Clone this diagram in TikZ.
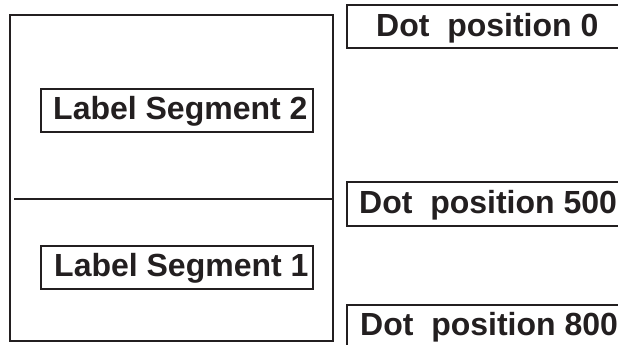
\documentclass[tikz,border=0pt]{standalone}
\usepackage{fontspec}
\setmainfont{Liberation Sans}
\definecolor{ink}{RGB}{35,31,32}
\begin{document}
\begin{tikzpicture}[x=1pt,y=-1pt,
  frame/.style={draw=ink,line width=2.2pt},
  boxline/.style={draw=ink,line width=2pt},
  lbl/.style={inner sep=0pt,anchor=base west,text=ink,font=\fontsize{32}{38}\selectfont\bfseries}]
\useasboundingbox (0,0) rectangle (618,345);
\clip (0,0) rectangle (618,345);
% outer frame with divider
\draw[frame] (10,15) rectangle (333,341);
\coordinate (divL) at (14,199);
\coordinate (divR) at (333,199);
\draw[frame] (divL) -- (divR);
% label segment boxes
\draw[boxline] (41,89) rectangle (313,132);
\node[lbl] (ls2) at (53,119) {Label Segment 2};
\draw[boxline] (41,246) rectangle (313,289);
\node[lbl] (ls1) at (54,276) {Label Segment 1};
% dot position boxes (cut off at right)
\draw[boxline] (347,5) rectangle (640,48);
\node[lbl] (dp0) at (376,37) {Dot\ \ position 0};
\draw[boxline] (347,182) rectangle (640,226);
\node[lbl] (dp500) at (359,213) {Dot\ \ position 500};
\draw[boxline] (347,305) rectangle (640,370);
\node[lbl] (dp800) at (360,335) {Dot\ \ position 800};
\end{tikzpicture}
\end{document}
